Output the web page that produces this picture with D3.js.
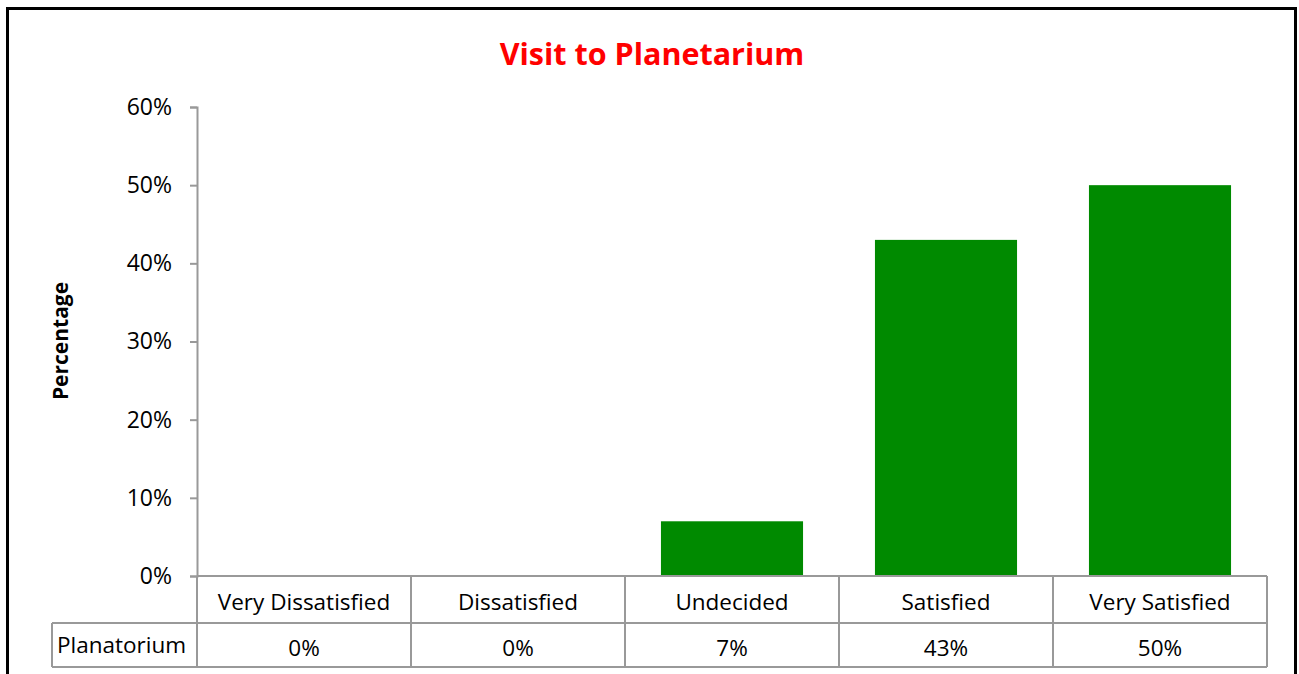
<!DOCTYPE html>
<html>
<head>
<meta charset="utf-8">
<script src="https://cdn.jsdelivr.net/npm/d3@7"></script>
<style>
  body { margin: 0; background: #fff; }
  svg { display: block; font-family: "Open Sans", "Noto Sans", sans-serif; }
</style>
</head>
<body>
<div id="graph"></div>
<script>
// chart data
var categories = ["Very Dissatisfied", "Dissatisfied", "Undecided", "Satisfied", "Very Satisfied"];
var values = [0, 0, 7, 43, 50];
var yTicks = [0, 10, 20, 30, 40, 50, 60];
var seriesName = "Planatorium";
var title = "Visit to Planetarium";
var yLabel = "Percentage";

var W = 1299, H = 674;
var margin = {left: 197, right: 32, top: 107, bottom: 98};
var plotBottom = H - margin.bottom;   // 576
var rowH1 = 47, rowH2 = 44;
var fs = 22.5;

var svg = d3.select("#graph")
  .append("svg")
    .attr("width", W)
    .attr("height", H);

// outer frame
svg.append("rect")
  .attr("x", 7.5).attr("y", 8.5)
  .attr("width", 1288).attr("height", 700)
  .attr("fill", "none")
  .attr("stroke", "#000")
  .attr("stroke-width", 3);

// title
svg.append("text")
  .attr("x", 652).attr("y", 65)
  .attr("text-anchor", "middle")
  .attr("fill", "#ff0000")
  .attr("font-weight", "bold")
  .attr("font-size", 30.5)
  .text(title);

var x = d3.scaleBand()
  .domain(categories)
  .range([margin.left, W - margin.right])
  .paddingInner(0.336)
  .paddingOuter(0.168);

var y = d3.scaleLinear()
  .domain([0, 60])
  .range([plotBottom, margin.top]);

// y axis
var yAxis = svg.append("g")
  .attr("transform", "translate(" + margin.left + ",0)")
  .call(d3.axisLeft(y)
    .tickValues(yTicks)
    .tickSize(7)
    .tickPadding(18)
    .tickFormat(function(d) { return d + "%"; }));
yAxis.select(".domain").attr("stroke", "#999").attr("stroke-width", 2);
yAxis.selectAll(".tick line").attr("stroke", "#999").attr("stroke-width", 2);
yAxis.selectAll(".tick text")
  .attr("font-size", 23)
  .attr("fill", "#000")
  .attr("font-family", "Open Sans, sans-serif");

// y label
svg.append("text")
  .attr("transform", "translate(68,341) rotate(-90)")
  .attr("text-anchor", "middle")
  .attr("font-weight", "bold")
  .attr("font-size", 21)
  .text(yLabel);

// bars
svg.append("g")
  .selectAll("rect")
  .data(values)
  .enter()
  .append("rect")
    .attr("x", function(d, i) { return x(categories[i]); })
    .attr("y", function(d) { return y(d); })
    .attr("width", x.bandwidth())
    .attr("height", function(d) { return y(0) - y(d); })
    .attr("fill", "#008a00");

// data table
var table = svg.append("g").attr("stroke", "#999").attr("stroke-width", 2).attr("fill", "none");
var step = x.step();
var colEdges = categories.map(function(c) { return x(c) - x.paddingOuter() * step; });
colEdges.push(W - margin.right);
var tLeft = 52;

// horizontal lines
table.append("line").attr("x1", margin.left).attr("x2", W - margin.right)
  .attr("y1", plotBottom).attr("y2", plotBottom);
table.append("line").attr("x1", tLeft).attr("x2", W - margin.right)
  .attr("y1", plotBottom + rowH1).attr("y2", plotBottom + rowH1);
table.append("line").attr("x1", tLeft).attr("x2", W - margin.right)
  .attr("y1", plotBottom + rowH1 + rowH2).attr("y2", plotBottom + rowH1 + rowH2);
// vertical lines
colEdges.forEach(function(cx) {
  table.append("line").attr("x1", cx).attr("x2", cx)
    .attr("y1", plotBottom).attr("y2", plotBottom + rowH1 + rowH2);
});
table.append("line").attr("x1", tLeft).attr("x2", tLeft)
  .attr("y1", plotBottom + rowH1).attr("y2", plotBottom + rowH1 + rowH2);

// category labels
svg.append("g").selectAll("text")
  .data(categories)
  .enter()
  .append("text")
    .attr("x", function(d) { return x(d) + x.bandwidth() / 2; })
    .attr("y", plotBottom + 34)
    .attr("text-anchor", "middle")
    .attr("font-size", fs)
    .text(function(d) { return d; });

// values row
svg.append("g").selectAll("text")
  .data(values)
  .enter()
  .append("text")
    .attr("x", function(d, i) { return x(categories[i]) + x.bandwidth() / 2; })
    .attr("y", plotBottom + rowH1 + 33)
    .attr("text-anchor", "middle")
    .attr("font-size", fs)
    .text(function(d) { return d + "%"; });

svg.append("text")
  .attr("x", tLeft + 5)
  .attr("y", plotBottom + rowH1 + 30)
  .attr("font-size", fs)
  .text(seriesName);
</script>
</body>
</html>
